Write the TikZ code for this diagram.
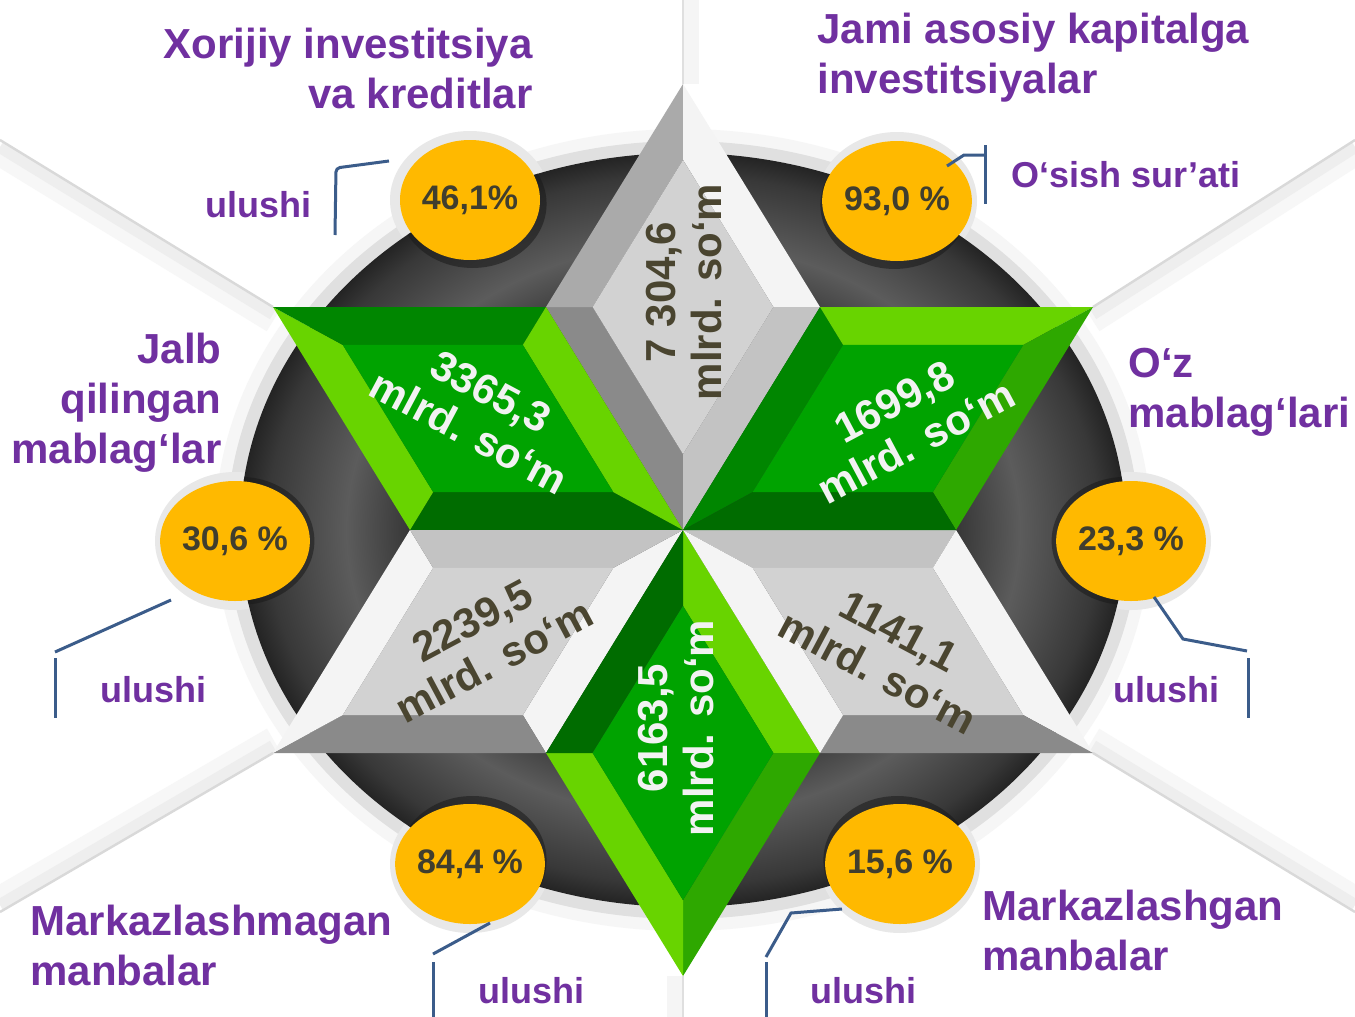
\documentclass[tikz,border=0pt]{standalone}
\usepackage{fontspec}
\setmainfont{Liberation Sans}
\usetikzlibrary{calc,shapes.geometric}

\definecolor{lila}{HTML}{7030A0}
\definecolor{linkblue}{HTML}{3B5C8A}
\definecolor{amber}{HTML}{FFB900}
\definecolor{numtext}{HTML}{403E2E}
\definecolor{olive}{HTML}{4A4530}
\definecolor{gDark}{HTML}{006C00}
\definecolor{gDeep}{HTML}{008600}
\definecolor{gLime}{HTML}{68D400}
\definecolor{gGrass}{HTML}{2EA800}
\definecolor{gCore}{HTML}{00A300}
\definecolor{sDim}{HTML}{8A8A8A}
\definecolor{sMid}{HTML}{AAAAAA}
\definecolor{sLite}{HTML}{C3C3C3}
\definecolor{sPale}{HTML}{F4F4F4}
\definecolor{sCore}{HTML}{D2D2D2}

\pgfdeclareradialshading{diskshade}{\pgfpoint{0bp}{0bp}}{color(0bp)=(black!80); color(15bp)=(black!80); color(19bp)=(black!64); color(23.5bp)=(black!78); color(25bp)=(black!86); color(50bp)=(black!86)}

\begin{document}
\begin{tikzpicture}[x=0.5pt, y=-0.5pt,
	pct/.style={ellipse, fill=amber, minimum width=70pt, minimum height=60pt, inner sep=0pt, text=numtext, font=\fontsize{17}{20}\selectfont\bfseries},
	ttl/.style={text=lila, inner sep=0pt, font=\fontsize{21}{25}\selectfont\bfseries},
	ulu/.style={text=lila, inner sep=0pt, anchor=base west, font=\fontsize{18}{22}\selectfont\bfseries},
	val/.style={align=center, inner sep=0pt, font=\fontsize{21}{23}\selectfont\bfseries},
	link/.style={draw=linkblue, line width=1.5pt}]
	\useasboundingbox (0,0) rectangle (1355,1017);
	\fill[white] (0,0) rectangle (1355,1017);

%star points
	\coordinate (C) at (683,530);
	\coordinate (R1) at (820,307);
	\coordinate (R2) at (546,307);
	\coordinate (R3) at (410,530);
	\coordinate (R4) at (546,753);
	\coordinate (R5) at (820,753);
	\coordinate (R6) at (956,530);
	\coordinate (T) at (683,84);
	\coordinate (UL) at (273,307);
	\coordinate (LL) at (273,753);
	\coordinate (B) at (683,976);
	\coordinate (LR) at (1093,753);
	\coordinate (UR) at (1093,307);

%circle centres
	\coordinate (q46) at (470,200);
	\coordinate (q93) at (897,201);
	\coordinate (q30) at (235,541);
	\coordinate (q23) at (1131,541);
	\coordinate (q84) at (470,864);
	\coordinate (q15) at (900,864);

%rays
	\foreach \xa/\ya/\xb/\yb/\s in {273/307/0/140/1, 1093/307/1355/140/1, 273/753/0/912/-1, 1093/753/1355/912/-1}{
		\draw[gray!6, line width=12pt] (\xa,\ya+\s*14) -- (\xb,\yb+\s*14);
		\draw[gray!13, line width=6pt] (\xa,\ya+\s*7) -- (\xb,\yb+\s*7);
		\draw[gray!30, line width=1.2pt] (\xa,\ya) -- (\xb,\yb);
	}
	\draw[gray!8, line width=8pt] (691,0) -- (691,84);
	\draw[gray!25, line width=1.2pt] (T) -- (683,0);
	\draw[gray!8, line width=8pt] (675,976) -- (675,1017);
	\draw[gray!25, line width=1.2pt] (B) -- (683,1017);

%disk
	\fill[gray!7] (C) ellipse [x radius=468, y radius=401];
	\fill[gray!24] (C) ellipse [x radius=456, y radius=389];
	\foreach \q in {q46,q93,q30,q23,q84,q15}
		\fill[gray!18] (\q) ellipse [x radius=80, y radius=69];
	\shade[shading=diskshade] (C) ellipse [x radius=443, y radius=377];
	\begin{scope}
		\clip (C) ellipse [x radius=443, y radius=377];
		\foreach \q in {q46,q93,q30,q23,q84,q15}
			\fill[black!90, opacity=.55] ($(\q)!0.012!(C)$) ellipse [x radius=74, y radius=64];
	\end{scope}

%bevelled rhombi
	\foreach \a/\b/\c/\fA/\fB/\fC/\fD/\fE in {R2/T/R1/sDim/sMid/sPale/sLite/sCore, R3/UL/R2/gDark/gLime/gDeep/gLime/gCore, R4/LL/R3/sPale/sDim/sPale/sLite/sCore, R5/B/R4/gLime/gGrass/gLime/gDark/gCore, R6/LR/R5/sLite/sPale/sDim/sPale/sCore, R1/UR/R6/gDeep/gLime/gGrass/gDark/gCore}{
		\coordinate (g) at ($(C)!0.5!(\b)$);
		\coordinate (w0) at ($(g)!0.66!(C)$);
		\coordinate (w1) at ($(g)!0.66!(\a)$);
		\coordinate (w2) at ($(g)!0.66!(\b)$);
		\coordinate (w3) at ($(g)!0.66!(\c)$);
		\fill[\fA] (C) -- (\a) -- (w1) -- (w0) -- cycle;
		\fill[\fB] (\a) -- (\b) -- (w2) -- (w1) -- cycle;
		\fill[\fC] (\b) -- (\c) -- (w3) -- (w2) -- cycle;
		\fill[\fD] (\c) -- (C) -- (w0) -- (w3) -- cycle;
		\fill[\fE] (w0) -- (w1) -- (w2) -- (w3) -- cycle;
	}

%values
	\node[val, text=olive, rotate=90] (vTop) at (684,292) {7 304,6\\mlrd. so‘m};
	\node[val, text=white!95!black, rotate=-28] (vUL) at (480,412) {3365,3\\mlrd. so‘m};
	\node[val, text=white!95!black, rotate=28] (vUR) at (905,422) {1699,8\\mlrd. so‘m};
	\node[val, text=olive, rotate=28] (vLL) at (483,641) {2239,5\\mlrd. so‘m};
	\node[val, text=olive, rotate=-28] (vLR) at (888,652) {1141,1\\mlrd. so‘m};
	\node[val, text=white!95!black, rotate=90] (vBot) at (676,728) {6163,5\\mlrd. so‘m};

%percent circles
	\node[pct] (p46) at (q46) {46,1\%};
	\node[pct] (p93) at (q93) {93,0 \%};
	\node[pct] (p30) at (q30) {30,6 \%};
	\node[pct] (p23) at (q23) {23,3 \%};
	\node[pct] (p84) at (q84) {84,4 \%};
	\node[pct] (p15) at (q15) {15,6 \%};

%titles (base = last line)
	\node[ttl, align=right, anchor=base east] (xor) at (533,108) {Xorijiy investitsiya\\va kreditlar};
	\node[ttl, align=left, anchor=base west] (jami) at (817,93) {Jami asosiy kapitalga\\investitsiyalar};
	\node[ttl, align=right, anchor=base east] (jalb) at (222,463) {Jalb\\qilingan\\mablag‘lar};
	\node[ttl, align=left, anchor=base west] (oz) at (1128,427) {O‘z\\mablag‘lari};
	\node[ttl, align=left, anchor=base west] (mrkm) at (30,985) {Markazlashmagan\\manbalar};
	\node[ttl, align=left, anchor=base west] (mrkg) at (982,970) {Markazlashgan\\manbalar};
	\node[ulu] (osish) at (1011,187) {O‘sish sur’ati};
	\foreach \x/\y/\n in {205/217/u46, 100/702/u30, 1113/702/u23, 478/1003/u84, 810/1003/u15}
		\node[ulu] (\n) at (\x,\y) {ulushi};

%connectors
	\coordinate (k1a) at (389,161);
	\coordinate (k1b) at (336,168);
	\coordinate (k1c) at (335,235);
	\draw[link, rounded corners=2pt] (k1a) -- (k1b) -- (k1c);

	\coordinate (k2a) at (947,166);
	\coordinate (k2b) at (964,155);
	\coordinate (k2c) at (985,155);
	\coordinate (k2d) at (985,145);
	\coordinate (k2e) at (985,204);
	\draw[link] (k2a) -- (k2b) -- (k2c);
	\draw[link] (k2d) -- (k2e);

	\coordinate (k3a) at (171,600);
	\coordinate (k3b) at (55,652);
	\coordinate (k3c) at (55,658);
	\coordinate (k3d) at (55,718);
	\draw[link] (k3a) -- (k3b);
	\draw[link] (k3c) -- (k3d);

	\coordinate (k4a) at (1154,597);
	\coordinate (k4b) at (1183,639);
	\coordinate (k4c) at (1247,651);
	\coordinate (k4d) at (1248,658);
	\coordinate (k4e) at (1248,718);
	\draw[link] (k4a) -- (k4b) -- (k4c);
	\draw[link] (k4d) -- (k4e);

	\coordinate (k5a) at (490,923);
	\coordinate (k5b) at (433,954);
	\coordinate (k5c) at (433,962);
	\coordinate (k5d) at (433,1017);
	\draw[link] (k5a) -- (k5b);
	\draw[link] (k5c) -- (k5d);

	\coordinate (k6a) at (842,909);
	\coordinate (k6b) at (791,913);
	\coordinate (k6c) at (766,957);
	\coordinate (k6d) at (766,962);
	\coordinate (k6e) at (766,1017);
	\draw[link] (k6a) -- (k6b) -- (k6c);
	\draw[link] (k6d) -- (k6e);
\end{tikzpicture}
\end{document}
